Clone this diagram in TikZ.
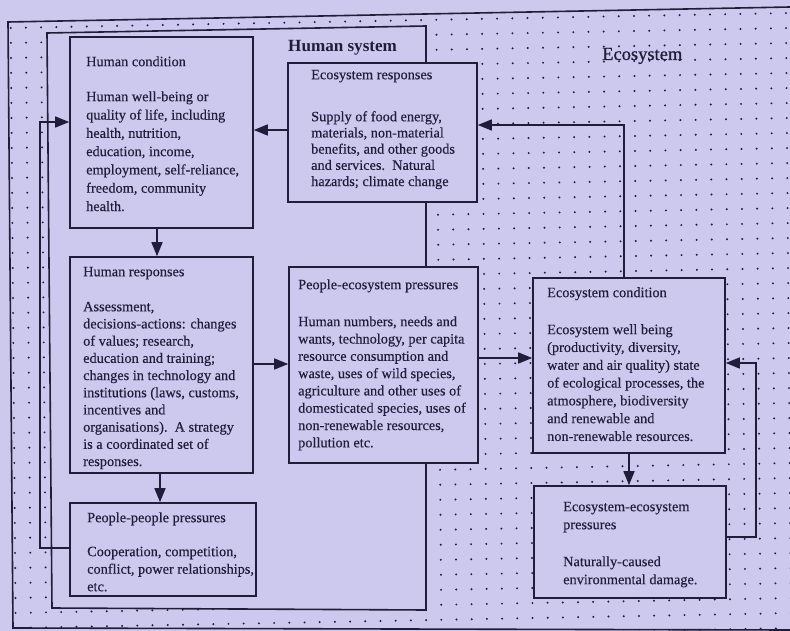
\documentclass[tikz,border=0pt]{standalone}
\usepackage{fontspec}
\setmainfont{Liberation Serif}
\newfontfamily\bodyface[FakeBold=0.3]{Liberation Serif}
\newfontfamily\titleface[FakeBold=0.7]{Liberation Serif}
\usetikzlibrary{arrows.meta}
\definecolor{paper}{RGB}{205,201,238}
\definecolor{ink}{RGB}{30,30,58}
\newcommand{\boxfont}[1]{\bodyface\fontsize{14.3}{#1}\selectfont}
\tikzset{
  frame/.style={draw=ink, line width=1.6pt},
  stage/.style={draw=ink, line width=1.6pt, fill=paper, inner sep=0pt},
  blurb/.style={text=ink, anchor=north west, inner sep=0pt, align=left},
  flow/.style={draw=ink, line width=1.5pt, -{Triangle[length=14pt,width=11pt]}},
}
\begin{document}
\begin{tikzpicture}[x=1pt,y=-1pt]
\useasboundingbox (0,0) rectangle (790,631);
\fill[paper] (0,0) rectangle (790,631);

% dotted ground of the ecosystem
\begin{scope}
  \clip (8,22) -- (790,7) -- (790,631) -- (13,628) -- cycle;
  \foreach \j in {0,...,52}{
    \foreach \k in {0,...,41}{
      \fill[ink] ({10.5+15.2*\j+0.0083*(28+15*\k)},{28+15*\k-0.0192*(2.5+15.2*\j)}) circle (1.1pt);
    }
  }
\end{scope}

% human system, cut out of the ecosystem
\fill[paper] (47,33) -- (426,26) -- (426,610) -- (52,608) -- cycle;
\draw[frame] (47,33) -- (426,26) -- (426,610) -- (52,608) -- cycle;
\draw[frame] (790,7) -- (8,22) -- (13,628) -- (790,630);

\node[text=ink, anchor=base west, inner sep=0pt, font=\fontsize{17.1}{20}\selectfont\bfseries] (hstitle) at (288,52) {Human system};
\node[text=ink, anchor=base west, inner sep=0pt, font=\titleface\fontsize{18.5}{22}\selectfont] (estitle) at (602,60) {Ecosystem};

% boxes
\node[stage, minimum width=183pt, minimum height=191pt] (hc) at (161.5,132.5) {};
\node[stage, minimum width=189pt, minimum height=139pt] (er) at (382.5,132.5) {};
\node[stage, minimum width=183pt, minimum height=216pt] (hr) at (161.5,365) {};
\node[stage, minimum width=189pt, minimum height=196pt] (pe) at (383.5,365) {};
\node[stage, minimum width=192pt, minimum height=175pt] (ec) at (629,365.5) {};
\node[stage, minimum width=192pt, minimum height=112pt] (ee) at (630,542) {};
\node[stage, minimum width=186pt, minimum height=93pt] (pp) at (163,549.5) {};

% box texts
\node[blurb, font=\boxfont{18.3}] (hctext) at (86,53.2) {\strut Human condition\\[16.7pt]
Human well-being or\\
quality of life, including\\
health, nutrition,\\
education, income,\\
employment, self-reliance,\\
freedom, community\\
health.};

\node[blurb, font=\boxfont{16.2}] (ertext) at (311,67.7) {\strut Ecosystem responses\\[25.8pt]
Supply of food energy,\\
materials, non-material\\
benefits, and other goods\\
and services.\ \ Natural\\
hazards; climate change};

\node[blurb, font=\boxfont{17.2}] (hrtext) at (83,264) {\strut Human responses\\[17.8pt]
Assessment,\\
decisions-actions: changes\\
of values; research,\\
education and training;\\
changes in technology and\\
institutions (laws, customs,\\
incentives and\\
organisations).\ \ A strategy\\
is a coordinated set of\\
responses.};

\node[blurb, font=\boxfont{17.3}] (petext) at (298,276.9) {\strut People-ecosystem pressures\\[19.7pt]
Human numbers, needs and\\
wants, technology, per capita\\
resource consumption and\\
waste, uses of wild species,\\
agriculture and other uses of\\
domesticated species, uses of\\
non-renewable resources,\\
pollution etc.};

\node[blurb, font=\boxfont{17.8}] (ectext) at (547,284.5) {\strut Ecosystem condition\\[19.2pt]
Ecosystem well being\\
(productivity, diversity,\\
water and air quality) state\\
of ecological processes, the\\
atmosphere, biodiversity\\
and renewable and\\
non-renewable resources.};

\node[blurb, font=\boxfont{18}] (eetext) at (563,498.4) {\strut Ecosystem-ecosystem\\
pressures\\[19pt]
Naturally-caused\\
environmental damage.};

\node[blurb, font=\boxfont{17.5}] (pptext) at (87,509.75) {\strut People-people pressures\\[16.5pt]
Cooperation, competition,\\
conflict, power relationships,\\
etc.};

% connectors
\coordinate (lbend) at (40,122);
\coordinate (rbend) at (624,125);
\coordinate (ebend) at (756,537);
\draw[flow] (er.west |- 0,130) -- (hc.east |- 0,130);
\draw[flow] (hc.south -| 157,0) -- (hr.north -| 157,0);
\draw[flow] (hr.east |- 0,364) -- (pe.west |- 0,364);
\draw[flow] (hr.south -| 160,0) -- (pp.north -| 160,0);
\draw[flow] (pp.west |- 0,548) -| (lbend) -- (hc.west |- lbend);
\draw[flow] (pe.east |- 0,358) -- (ec.west |- 0,358);
\draw[flow] (ec.north -| rbend) |- (er.east |- rbend);
\draw[flow] (ec.south -| 629,0) -- (ee.north -| 629,0);
\draw[flow] (ee.east |- ebend) -- (ebend) |- (ec.east |- 0,363);
\end{tikzpicture}
\end{document}
